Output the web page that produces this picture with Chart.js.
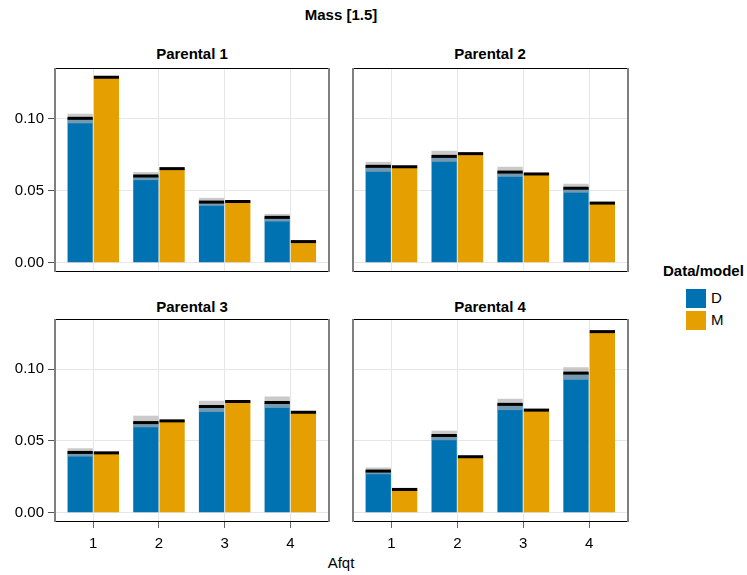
<!DOCTYPE html>
<html>
<head>
<meta charset="utf-8">
<script src="https://cdn.jsdelivr.net/npm/chart.js@4.4.1/dist/chart.umd.min.js"></script>
<style>
  body { margin: 0; background: #fff; width: 747px; height: 575px; position: relative; overflow: hidden;
         font-family: "Liberation Sans", Arial, sans-serif; color: #000; }
  canvas { position: absolute; }
  .lbl { position: absolute; font-size: 15px; line-height: 18px; white-space: nowrap; transform: translate(-50%, -50%); }
  .b { font-weight: bold; }
  .key { position: absolute; width: 20px; height: 19px; }
  .keytxt { position: absolute; font-size: 15px; line-height: 18px; transform: translateY(-50%); }
</style>
</head>
<body>
<div class="lbl b" style="left:341px;top:15px">Mass [1.5]</div>
<div class="lbl b" style="left:192px;top:54px">Parental 1</div>
<div class="lbl b" style="left:490px;top:54px">Parental 2</div>
<div class="lbl b" style="left:192px;top:307px">Parental 3</div>
<div class="lbl b" style="left:490px;top:307px">Parental 4</div>
<div class="lbl" style="left:341px;top:563px">Afqt</div>

<div class="keytxt b" style="left:663px;top:271px">Data/model</div>
<div class="key" style="left:686px;top:289px;background:#0072B2"></div>
<div class="keytxt" style="left:711px;top:298px">D</div>
<div class="key" style="left:686px;top:311px;background:#E69F00"></div>
<div class="keytxt" style="left:711px;top:320px">M</div>

<canvas id="p1" width="335" height="220" style="left:0px;top:60px"></canvas>
<canvas id="p2" width="290" height="220" style="left:345px;top:60px"></canvas>
<canvas id="p3" width="335" height="250" style="left:0px;top:311px"></canvas>
<canvas id="p4" width="290" height="250" style="left:345px;top:311px"></canvas>

<script>
// categories (Afqt) et ticks
const categories = [1, 2, 3, 4];
const yTicks = [0, 0.05, 0.10];

// Parental 1
const d1 = [0.1001, 0.0601, 0.0420, 0.0314];
const d1Low = [0.0966, 0.0572, 0.0394, 0.0285];
const d1High = [0.1033, 0.0628, 0.0449, 0.0338];
const m1 = [0.1286, 0.0652, 0.0424, 0.0146];

// Parental 2
const d2 = [0.0668, 0.0737, 0.0628, 0.0516];
const d2Low = [0.0630, 0.0699, 0.0595, 0.0485];
const d2High = [0.0699, 0.0776, 0.0665, 0.0547];
const m2 = [0.0665, 0.0756, 0.0615, 0.0413];

// Parental 3
const d3 = [0.0420, 0.0628, 0.0740, 0.0768];
const d3Low = [0.0391, 0.0595, 0.0702, 0.0730];
const d3High = [0.0449, 0.0676, 0.0780, 0.0810];
const m3 = [0.0417, 0.0640, 0.0775, 0.0700];

// Parental 4
const d4 = [0.0290, 0.0538, 0.0755, 0.0973];
const d4Low = [0.0268, 0.0505, 0.0715, 0.0926];
const d4High = [0.0315, 0.0572, 0.0794, 0.1014];
const m4 = [0.0162, 0.0390, 0.0715, 0.1262];

const BLUE = "#0072B2";
const ORANGE = "#E69F00";
const BAND = "rgba(175,175,175,0.66)";
const GRID = "#e6e6e6";
const FONT = { family: "'Liberation Sans', Arial, sans-serif", size: 15 };

// trait noir au sommet des barres + cadre du panneau
const capsAndFrame = {
  id: "capsAndFrame",
  afterDatasetsDraw(chart) {
    const ctx = chart.ctx;
    ctx.save();
    ctx.fillStyle = "#000";
    chart.data.datasets.forEach((ds, i) => {
      if (!ds.cap) return;
      chart.getDatasetMeta(i).data.forEach((bar) => {
        ctx.fillRect(bar.x - bar.width / 2, bar.y - 1.5, bar.width, 3);
      });
    });
    ctx.restore();
  },
  afterDraw(chart) {
    const { left, top, right, bottom } = chart.chartArea;
    const ctx = chart.ctx;
    ctx.save();
    ctx.strokeStyle = "#000";
    ctx.lineWidth = 1;
    ctx.beginPath();
    ctx.moveTo(left, top + 0.5);
    ctx.lineTo(right, top + 0.5);
    ctx.moveTo(left, bottom - 0.5);
    ctx.lineTo(right, bottom - 0.5);
    ctx.stroke();
    ctx.strokeStyle = "#7f7f7f";
    ctx.lineWidth = 2;
    ctx.beginPath();
    ctx.moveTo(left, top);
    ctx.lineTo(left, bottom);
    ctx.moveTo(right, top);
    ctx.lineTo(right, bottom);
    ctx.stroke();
    ctx.restore();
  },
};

// pas de marge automatique pour les labels
function noMargins(s) {
  s.paddingTop = 0;
  s.paddingBottom = 0;
  s.paddingLeft = 0;
  s.paddingRight = 0;
}

function makePanel(id, d, dLow, dHigh, m, showY, showX, pad) {
  const pts = (arr) => categories.map((c, i) => ({ x: c, y: arr[i] }));
  new Chart(document.getElementById(id), {
    type: "bar",
    data: {
      datasets: [
        { label: "D", data: pts(d), backgroundColor: BLUE, stack: "D", order: 4, cap: true },
        { label: "M", data: pts(m), backgroundColor: ORANGE, stack: "M", order: 3, cap: true },
        {
          label: "D band",
          data: categories.map((c, i) => ({ x: c, y: [dLow[i], dHigh[i]] })),
          backgroundColor: BAND,
          stack: "D",
          order: 2,
        },
      ],
    },
    options: {
      responsive: false,
      devicePixelRatio: 1,
      animation: false,
      events: [],
      layout: { padding: pad },
      datasets: { bar: { barPercentage: 0.96, categoryPercentage: 0.8 } },
      plugins: { legend: { display: false }, tooltip: { enabled: false }, title: { display: false } },
      scales: {
        x: {
          type: "linear",
          offset: false,
          min: 0.417,
          max: 4.589,
          afterBuildTicks: (s) => { s.ticks = categories.map((v) => ({ value: v })); },
          ticks: { display: showX, font: FONT, color: "#000", padding: 7, callback: (v) => String(v) },
          grid: { offset: false, color: GRID, tickColor: "#666", tickLength: 6, drawTicks: showX },
          border: { display: false },
          afterFit: (s) => { s.height = showX ? 30 : 0; noMargins(s); },
        },
        y: {
          type: "linear",
          min: -0.0065,
          max: 0.135,
          stacked: false,
          afterBuildTicks: (s) => { s.ticks = yTicks.map((v) => ({ value: v })); },
          ticks: { display: showY, font: FONT, color: "#000", padding: 4, callback: (v) => v.toFixed(2) },
          grid: { color: GRID, tickColor: "#555", tickLength: 7, drawTicks: showY },
          border: { display: false },
          afterFit: (s) => { s.width = showY ? 55 : 0; noMargins(s); },
        },
      },
    },
    plugins: [capsAndFrame],
  });
}

makePanel("p1", d1, d1Low, d1High, m1, true, false, { left: 0, top: 8, right: 6, bottom: 8 });
makePanel("p2", d2, d2Low, d2High, m2, false, false, { left: 8, top: 8, right: 7, bottom: 8 });
makePanel("p3", d3, d3Low, d3High, m3, true, true, { left: 0, top: 8, right: 6, bottom: 9 });
makePanel("p4", d4, d4Low, d4High, m4, false, true, { left: 8, top: 8, right: 7, bottom: 9 });
</script>
</body>
</html>
